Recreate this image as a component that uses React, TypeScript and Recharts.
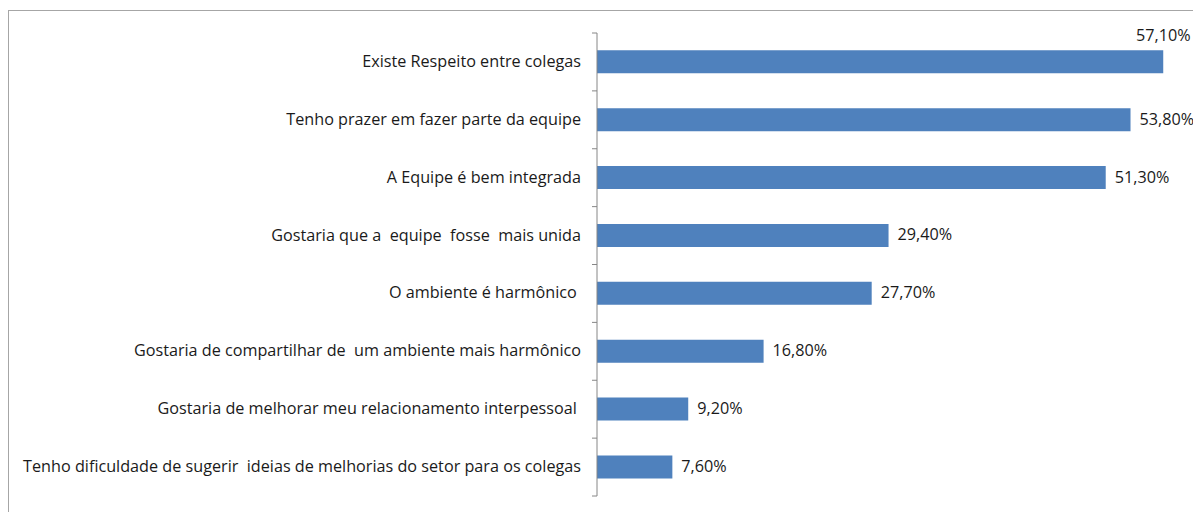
import { BarChart, Bar, XAxis, YAxis, LabelList } from "recharts";

const categories = [
  "Existe Respeito entre colegas",
  "Tenho prazer em fazer parte da equipe",
  "A Equipe é bem integrada",
  "Gostaria que a  equipe  fosse  mais unida",
  "O ambiente é harmônico ",
  "Gostaria de compartilhar de  um ambiente mais harmônico",
  "Gostaria de melhorar meu relacionamento interpessoal ",
  "Tenho dificuldade de sugerir  ideias de melhorias do setor para os colegas",
];

const values = [57.1, 53.8, 51.3, 29.4, 27.7, 16.8, 9.2, 7.6];

const data = categories.map((name, i) => ({ name, value: values[i] }));

const CHART_W = 1192;
const FONT = "'Open Sans', sans-serif";
const FS = 16.2;

const fmt = (v: number) => v.toFixed(2).replace(".", ",") + "%";

const CategoryTick = (props: any) => {
  const { x, y, payload, index } = props;
  const half = payload?.offset ?? 29;
  const axisX = x + 16;
  const last = index === categories.length - 1;
  return (
    <g>
      <line x1={axisX - 5} x2={axisX} y1={y - half} y2={y - half} stroke="#868686" />
      {last && (
        <line x1={axisX - 5} x2={axisX} y1={y + half} y2={y + half} stroke="#868686" />
      )}
      <text
        x={x}
        y={y}
        dy={5}
        textAnchor="end"
        fontSize={FS}
        fontFamily={FONT}
        fill="#1a1a1a"
        style={{ whiteSpace: "pre" }}
      >
        {payload.value}
      </text>
    </g>
  );
};

const ValueLabel = (props: any) => {
  const { x, y, width, height, value } = props;
  const end = x + width;
  const text = fmt(value);
  if (end + 10 + 60 > CHART_W) {
    return (
      <text
        x={end}
        y={y - 9}
        textAnchor="middle"
        fontSize={FS}
        fontFamily={FONT}
        fill="#1a1a1a"
      >
        {text}
      </text>
    );
  }
  return (
    <text
      x={end + 9}
      y={y + height / 2}
      dy={5}
      textAnchor="start"
      fontSize={FS}
      fontFamily={FONT}
      fill="#1a1a1a"
    >
      {text}
    </text>
  );
};

export default function App() {
  return (
    <div style={{ paddingTop: 2, overflow: "hidden", width: 1193 }}>
      <div
        style={{
          borderLeft: "1px solid #a6a6a6",
          borderTop: "1px solid #a6a6a6",
          width: 1300,
          height: 520,
        }}
      >
        <BarChart
          layout="vertical"
          width={CHART_W}
          height={501}
          data={data}
          margin={{ top: 22, right: 9, bottom: 16, left: 0 }}
          barCategoryGap="30%"
        >
          <XAxis type="number" domain={[0, 60]} hide />
          <YAxis
            type="category"
            dataKey="name"
            width={588}
            axisLine={{ stroke: "#868686" }}
            tickLine={false}
            tickSize={6}
            tickMargin={10}
            interval={0}
            tick={<CategoryTick />}
          />
          <Bar dataKey="value" fill="#4f81bd" isAnimationActive={false}>
            <LabelList dataKey="value" content={<ValueLabel />} />
          </Bar>
        </BarChart>
      </div>
    </div>
  );
}
